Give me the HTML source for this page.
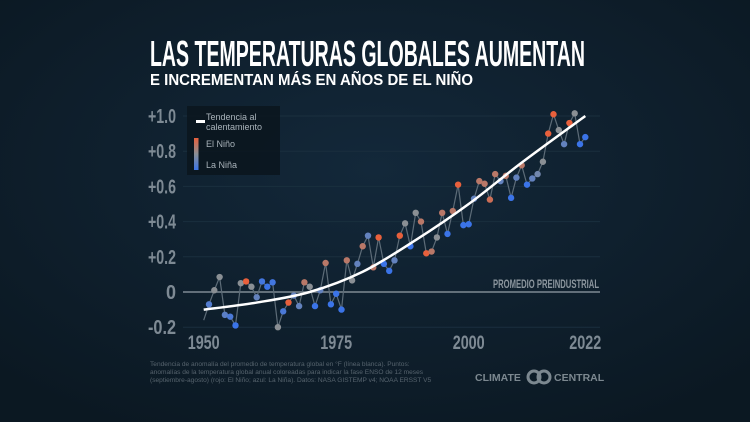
<!DOCTYPE html>
<html><head><meta charset="utf-8"><style>
html,body{margin:0;padding:0;background:#0e1c27;}
svg{display:block}
</style></head><body>
<svg id="chart" width="750" height="422" viewBox="0 0 750 422" xmlns="http://www.w3.org/2000/svg">
<defs>
<radialGradient id="bg" cx="50%" cy="40%" r="70%">
<stop offset="0" stop-color="#13283a"/><stop offset="1" stop-color="#0b1822"/>
</radialGradient>
<linearGradient id="lg" x1="0" y1="0" x2="0" y2="1">
<stop offset="0" stop-color="#e8603c"/><stop offset="0.5" stop-color="#8a8f94"/><stop offset="1" stop-color="#3b74e8"/>
</linearGradient>
</defs>
<rect x="0" y="0" width="750" height="422" fill="url(#bg)"/>
<text x="150" y="66" textLength="435" lengthAdjust="spacingAndGlyphs" font-family="'Liberation Sans Narrow','Liberation Sans',sans-serif" font-weight="bold" font-size="36" fill="#ffffff">LAS TEMPERATURAS GLOBALES AUMENTAN</text>
<text x="150" y="85" textLength="323" lengthAdjust="spacingAndGlyphs" font-family="'Liberation Sans',sans-serif" font-weight="bold" font-size="16" fill="#ffffff">E INCREMENTAN MÁS EN AÑOS DE EL NIÑO</text>
<g id="grid"></g>
<g id="yaxis"></g>
<g id="xaxis"></g>
<text x="599" y="288" text-anchor="end" textLength="106" lengthAdjust="spacingAndGlyphs" font-family="'Liberation Sans Narrow','Liberation Sans',sans-serif" font-weight="bold" font-size="12" fill="#8c969e">PROMEDIO PREINDUSTRIAL</text>
<g id="series"></g>
<path id="trend" fill="none" stroke="#ffffff" stroke-width="2.5"/>
<g>
<rect x="187" y="106" width="93" height="69" fill="#0a151d" opacity="0.85"/>
<rect x="196" y="120" width="9" height="3" fill="#fff"/>
<text x="206" y="120" font-family="'Liberation Sans',sans-serif" font-size="9" fill="#a9b3ba">Tendencia al</text>
<text x="206" y="130" font-family="'Liberation Sans',sans-serif" font-size="9" fill="#a9b3ba">calentamiento</text>
<rect x="194" y="138" width="4.5" height="32" fill="url(#lg)"/>
<text x="206" y="147" font-family="'Liberation Sans',sans-serif" font-size="9" fill="#a9b3ba">El Niño</text>
<text x="206" y="168" font-family="'Liberation Sans',sans-serif" font-size="9" fill="#a9b3ba">La Niña</text>
</g>
<text font-family="'Liberation Sans',sans-serif" font-size="6.6" fill="#56636d">
<tspan x="150" y="366">Tendencia de anomalía del promedio de temperatura global en °F (línea blanca). Puntos:</tspan>
<tspan x="150" y="374">anomalías de la temperatura global anual coloreadas para indicar la fase ENSO de 12 meses</tspan>
<tspan x="150" y="382">(septiembre-agosto) (rojo: El Niño; azul: La Niña). Datos: NASA GISTEMP v4; NOAA ERSST V5</tspan>
</text>
<g>
<text x="475" y="381" font-family="'Liberation Sans',sans-serif" font-weight="bold" font-size="10.5" fill="#7c8890">CLIMATE</text>
<circle cx="534" cy="377" r="6" fill="none" stroke="#7c8890" stroke-width="3"/>
<circle cx="544" cy="377" r="6" fill="none" stroke="#7c8890" stroke-width="3"/>
<text x="554" y="381" font-family="'Liberation Sans',sans-serif" font-weight="bold" font-size="10.5" fill="#7c8890">CENTRAL</text>
</g>
</svg>
<script>
const years = [1950,1951,1952,1953,1954,1955,1956,1957,1958,1959,1960,1961,1962,1963,1964,1965,1966,1967,1968,1969,1970,1971,1972,1973,1974,1975,1976,1977,1978,1979,1980,1981,1982,1983,1984,1985,1986,1987,1988,1989,1990,1991,1992,1993,1994,1995,1996,1997,1998,1999,2000,2001,2002,2003,2004,2005,2006,2007,2008,2009,2010,2011,2012,2013,2014,2015,2016,2017,2018,2019,2020,2021,2022];
const anomalies = [-0.16,-0.07,0.01,0.085,-0.13,-0.14,-0.19,0.05,0.06,0.03,-0.03,0.06,0.03,0.055,-0.20,-0.11,-0.06,-0.02,-0.08,0.055,0.03,-0.08,0.01,0.165,-0.07,-0.01,-0.10,0.18,0.066,0.16,0.26,0.32,0.14,0.31,0.16,0.12,0.18,0.32,0.39,0.26,0.45,0.40,0.22,0.23,0.31,0.45,0.33,0.46,0.61,0.38,0.385,0.53,0.63,0.615,0.525,0.67,0.63,0.66,0.535,0.65,0.72,0.61,0.645,0.67,0.74,0.90,1.01,0.92,0.84,0.96,1.015,0.84,0.88];
const ensoIndex = [-0.6,-0.7,0,0,-0.6,-0.8,-1,0,1,0,-0.5,-0.9,-1,-0.9,0,-0.8,1,-0.5,-0.5,0.5,0,-1,-0.5,0.5,-1,-1,-1,0.5,0,-0.5,0.5,-0.5,0.5,1,-1,-1,-0.5,1,0,-1,0,0.5,1,0.5,0,0.5,-1,0.5,1,-1,-1,-0.5,0.5,0.5,0.7,0.5,-0.5,0.5,-1,-0.5,0.5,-1,-0.5,-0.3,0,1,1,0,-0.5,1,0,-1,-1];
const trendYears = [1950,1960,1970,1980,1990,2000,2010,2022];
const trendValues = [-0.10,-0.06,0.0,0.115,0.295,0.50,0.735,1.0];
const yTicks = [1.0,0.8,0.6,0.4,0.2,0,-0.2];
const yTickLabels = ["+1.0","+0.8","+0.6","+0.4","+0.2","0","-0.2"];
const xTicks = [1950,1975,2000,2022];

const NS="http://www.w3.org/2000/svg";
function xs(yr){return 203.7+(yr-1950)*5.3;}
function ys(v){return 292-v*176;}
function mk(tag,attrs,parent){const e=document.createElementNS(NS,tag);for(const k in attrs)e.setAttribute(k,attrs[k]);parent.appendChild(e);return e;}
function mix(a,b,t){return a.map((c,i)=>Math.round(c+(b[i]-c)*t));}
function col(v){const g=[138,143,148],r=[232,96,60],b=[59,116,232];const c=v>=0?mix(g,r,v):mix(g,b,-v);return `rgb(${c[0]},${c[1]},${c[2]})`;}

const grid=document.getElementById('grid'),ya=document.getElementById('yaxis'),xa=document.getElementById('xaxis');
yTicks.forEach((t,i)=>{
  const l=mk('line',{x1:183,x2:600,y1:ys(t),y2:ys(t),stroke:t===0?'#7f8a93':'#1a2f3e','stroke-width':t===0?1.6:1},grid);
  
  
  const lab=yTickLabels[i];
  const attrs={x:176,y:ys(t)+7,'text-anchor':'end','font-family':"'Liberation Sans Narrow','Liberation Sans',sans-serif",'font-weight':'bold','font-size':20,fill:'#7e8a94'};
  if(lab.length>1){attrs.textLength=lab.length>2?28:28;attrs.lengthAdjust='spacingAndGlyphs';}
  else{attrs.textLength=10;attrs.lengthAdjust='spacingAndGlyphs';}
  const tx=mk('text',attrs,ya);
  tx.textContent=lab;
  
  
});
xTicks.forEach(t=>{
  const tx=mk('text',{x:xs(t)-16,y:349,textLength:32,lengthAdjust:'spacingAndGlyphs','font-family':"'Liberation Sans Narrow','Liberation Sans',sans-serif",'font-weight':'bold','font-size':19,fill:'#7e8a94'},xa);
  tx.textContent=t;
  
  
});
const s=document.getElementById('series');
const ln=mk('polyline',{points:years.map((y,i)=>xs(y)+','+ys(anomalies[i])).join(' '),fill:'none',stroke:'#5d6c78','stroke-width':1.2},s);


years.forEach((y,i)=>{
  if(i===0)return;
  const c=mk('circle',{cx:xs(y),cy:ys(anomalies[i]),r:3.2,fill:col(ensoIndex[i])},s);
  
  
});
const P=trendYears.map((y,i)=>[xs(y),ys(trendValues[i])]);
let d=`M${P[0][0]},${P[0][1]}`;
for(let i=0;i<P.length-1;i++){
  const p0=P[Math.max(0,i-1)],p1=P[i],p2=P[i+1],p3=P[Math.min(P.length-1,i+2)];
  const c1=[p1[0]+(p2[0]-p0[0])/6,p1[1]+(p2[1]-p0[1])/6],c2=[p2[0]-(p3[0]-p1[0])/6,p2[1]-(p3[1]-p1[1])/6];
  d+=` C${c1[0]},${c1[1]} ${c2[0]},${c2[1]} ${p2[0]},${p2[1]}`;
}
document.getElementById('trend').setAttribute('d',d);
</script>
</body></html>
